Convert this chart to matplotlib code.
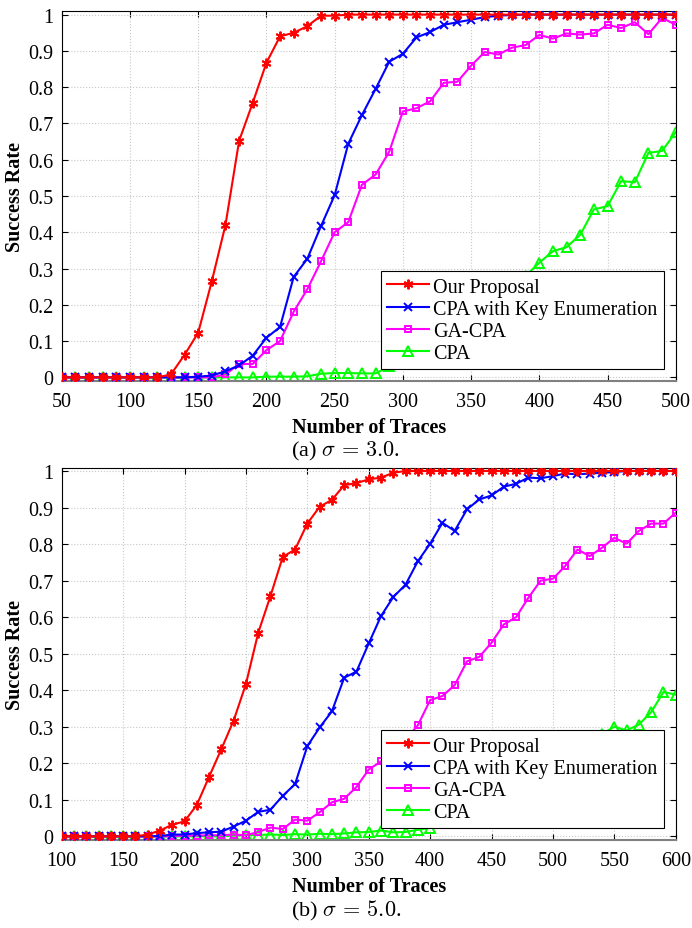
import numpy as np
import matplotlib
matplotlib.use("Agg")
import matplotlib.pyplot as plt

plt.rcParams['font.family'] = ['Liberation Serif', 'DejaVu Serif']
plt.rcParams['mathtext.fontset'] = 'cm'

# (a) sigma = 3.0
traces_a = np.arange(50, 501, 10)
ours_a = [0, 0, 0, 0, 0, 0, 0, 0,
          0.008, 0.062, 0.123, 0.265, 0.42, 0.652, 0.757, 0.867, 0.94, 0.95, 0.968, 0.997, 0.997, 1,
          1, 1, 1, 1, 1, 1, 1, 1, 1, 1, 1, 1, 1, 1, 1, 1, 1, 1, 1, 1, 1, 1, 1, 1]
keyenum_a = [0, 0, 0, 0, 0, 0, 0, 0, 0, 0,
             0.002, 0.005, 0.017, 0.033, 0.06, 0.109, 0.139, 0.277, 0.327, 0.417, 0.502, 0.644,
             0.723, 0.795, 0.87, 0.892, 0.937, 0.952, 0.972, 0.979, 0.986, 0.993, 0.997, 0.999,
             1, 1, 1, 1, 1, 1, 1, 1, 1, 1, 1, 1]
gacpa_a = [0, 0, 0, 0, 0, 0, 0, 0, 0, 0, 0,
           0.0, 0.008, 0.037, 0.037, 0.075, 0.1, 0.181, 0.243, 0.32, 0.40, 0.428, 0.531, 0.559,
           0.622, 0.733, 0.742, 0.761, 0.812, 0.815, 0.859, 0.897, 0.89, 0.909, 0.916, 0.944,
           0.934, 0.948, 0.945, 0.948, 0.972, 0.963, 0.979, 0.946, 0.991, 0.972]
cpa_a = [0, 0, 0, 0, 0, 0, 0, 0, 0, 0, 0, 0, 0, 0, 0,
         0.002, 0.002, 0.002, 0.003, 0.01, 0.012, 0.012, 0.011, 0.011, 0.03, 0.05, 0.07, 0.09,
         0.11, 0.13, 0.155, 0.18, 0.215, 0.245, 0.28, 0.316, 0.348, 0.359, 0.393, 0.463, 0.472,
         0.541, 0.538, 0.619, 0.624, 0.676]

# (b) sigma = 5.0
traces_b = np.arange(100, 601, 10)
ours_b = [0, 0, 0, 0, 0, 0, 0,
          0.005, 0.016, 0.032, 0.041, 0.086, 0.163, 0.239, 0.317, 0.417, 0.557, 0.658, 0.765,
          0.785, 0.856, 0.902, 0.921, 0.961, 0.967, 0.977, 0.982, 0.995,
          1, 1, 1, 1, 1, 1, 1, 1, 1, 1, 1, 1, 1, 1, 1, 1, 1, 1, 1, 1, 1, 1, 1]
keyenum_b = [0, 0, 0, 0, 0, 0, 0, 0,
             0.001, 0.005, 0.005, 0.009, 0.011, 0.013, 0.027, 0.043, 0.067, 0.073, 0.111, 0.143,
             0.247, 0.298, 0.342, 0.434, 0.451, 0.528, 0.603, 0.655, 0.689, 0.753, 0.801, 0.858,
             0.836, 0.895, 0.922, 0.933, 0.957, 0.965, 0.982, 0.98, 0.986, 0.993, 0.991, 0.993,
             0.995, 0.997,
             1, 1, 1, 1, 1]
gacpa_b = [0, 0, 0, 0, 0, 0, 0, 0, 0, 0,
           0.002, 0.002, 0.003, 0.003, 0.005, 0.003, 0.012, 0.024, 0.02, 0.046, 0.043, 0.066,
           0.093, 0.103, 0.135, 0.183, 0.205, 0.235, 0.265, 0.304, 0.373, 0.384, 0.414, 0.479,
           0.491, 0.53, 0.58, 0.6, 0.653, 0.70, 0.705, 0.74, 0.785, 0.767, 0.79, 0.817, 0.801,
           0.836, 0.856, 0.856, 0.886]
cpa_b = [0, 0, 0, 0, 0, 0, 0, 0, 0, 0, 0, 0, 0, 0,
         0.002, 0.003, 0.004, 0.005, 0.004, 0.006, 0.005, 0.007, 0.006, 0.008, 0.011, 0.012,
         0.016, 0.011, 0.012, 0.018, 0.023, 0.04, 0.055, 0.07, 0.09, 0.11, 0.13, 0.15, 0.17,
         0.19, 0.205, 0.22, 0.24, 0.26, 0.28, 0.30, 0.29, 0.306, 0.34, 0.395, 0.388]

labels = ["Our Proposal", "CPA with Key Enumeration", "GA-CPA", "CPA"]
colors = ["#FF0000", "#0000FF", "#FF00FF", "#00FF00"]
markers = [(6, 2, 0), "x", "s", "^"]
msizes = [7, 6, 5, 6.5]

fig = plt.figure(figsize=(6.92, 9.29), dpi=100)
ax1 = fig.add_axes([0.0892, 0.5888, 0.8873, 0.3983])
ax2 = fig.add_axes([0.0892, 0.0947, 0.8873, 0.4004])


def draw(ax, x, series, xlim, ylim, caption):
    for i, y in enumerate(series):
        ax.plot(x, y, color=colors[i], marker=markers[i], markersize=msizes[i],
                markerfacecolor='none' if i >= 2 else colors[i], markeredgewidth=1.4,
                linewidth=1.5, label=labels[i], zorder=5 - i)
    ax.set_xlim(*xlim)
    ax.set_ylim(*ylim)
    ax.set_xticks(np.arange(xlim[0], xlim[1] + 1, 50))
    ax.set_yticks(np.arange(0, 1.01, 0.1))
    ax.set_yticklabels(["0", "0.1", "0.2", "0.3", "0.4", "0.5", "0.6", "0.7", "0.8", "0.9", "1"])
    ax.tick_params(direction='in', top=True, right=True, labelsize=14.5, length=4)
    ax.tick_params(axis='x', pad=8)
    ax.tick_params(axis='y', pad=6)
    ax.grid(True, linestyle=':', color='#c8c8c8', linewidth=0.8)
    ax.spines['bottom'].set_color('#808080')
    ax.spines['bottom'].set_linewidth(1.5)
    ax.set_xlabel("Number of Traces", fontsize=14.5, fontweight='bold', labelpad=4)
    ax.set_ylabel("Success Rate", fontsize=14.5, fontweight='bold', labelpad=2)
    leg = ax.legend(loc='lower right', fontsize=14.5, fancybox=False, framealpha=1,
                    edgecolor='black', handlelength=2.1, labelspacing=0.15,
                    borderaxespad=0.6, handletextpad=0.2, borderpad=0.3)
    leg.get_frame().set_linewidth(0.8)
    leg.set_zorder(10)
    ax.text(0.5, caption[1], caption[0], transform=fig.transFigure,
            ha='center', va='center', fontsize=16)


draw(ax1, traces_a, [ours_a, keyenum_a, gacpa_a, cpa_a], (50, 500), (-0.01, 1.01),
     ("(a) $\\sigma\\,=\\,3.0$.", 1 - 451 / 929))
draw(ax2, traces_b, [ours_b, keyenum_b, gacpa_b, cpa_b], (100, 600), (-0.01, 1.008),
     ("(b) $\\sigma\\,=\\,5.0$.", 1 - 911 / 929))

fig.savefig("out.png", dpi=100)
